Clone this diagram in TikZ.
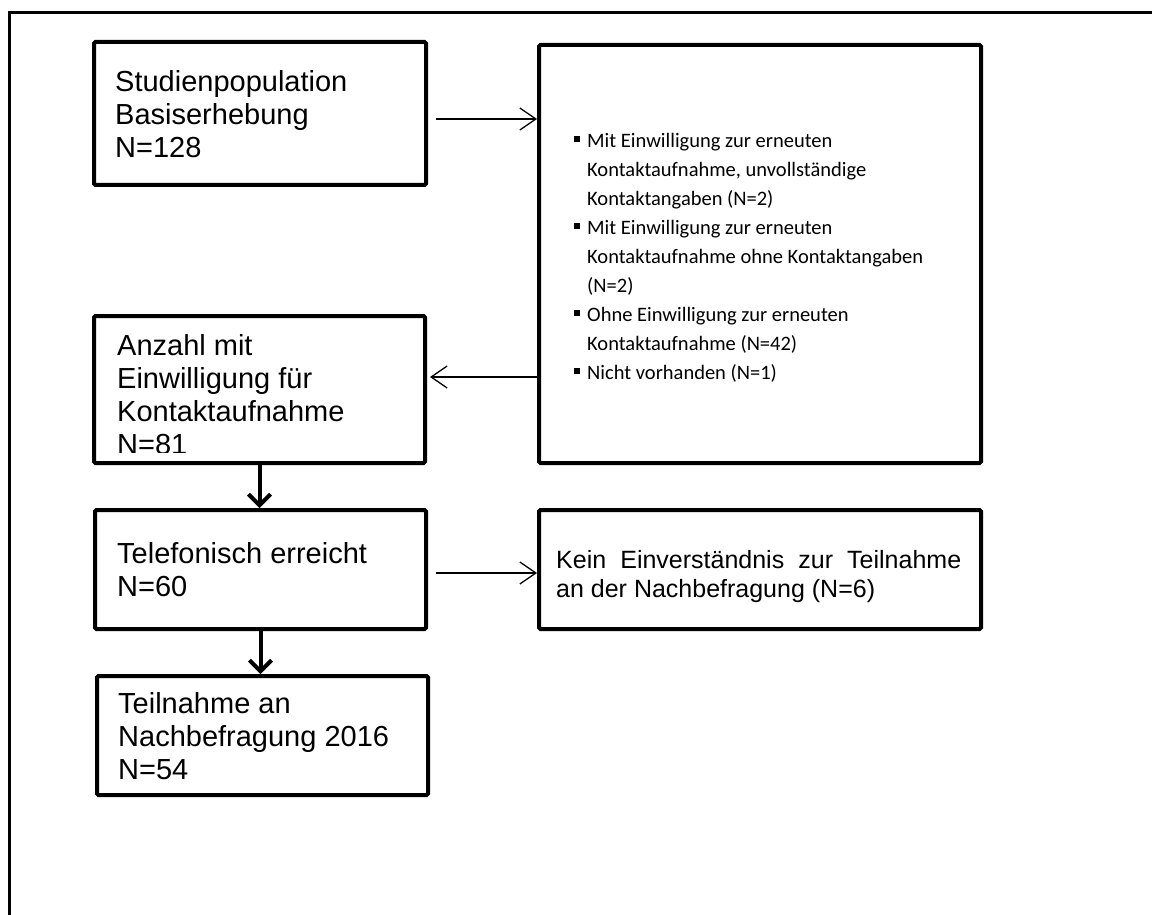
\documentclass[tikz,border=0pt]{standalone}
\usepackage{fontspec}
\setmainfont{Liberation Sans}
\newfontfamily\calfont{Carlito}
\usetikzlibrary{arrows.meta}
\newcommand\bulmark{\makebox[13pt][l]{\raisebox{6pt}{\rule{5.5pt}{5.5pt}}}}
\newcommand\bulind{\hspace*{13pt}}
\begin{document}
\begin{tikzpicture}[x=1pt,y=-1pt,
  box/.style={draw, line width=4pt, rounded corners=1.5pt, anchor=north west, inner sep=0pt},
  boxtext/.style={anchor=base west, inner sep=0pt, font=\fontsize{29}{33}\selectfont},
  thinarrow/.style={line width=1.3pt, -{Straight Barb[length=16pt,width=22pt,line width=1.3pt]}},
  thickarrow/.style={line width=4pt, -{Straight Barb[length=11pt,width=22pt,line width=4pt]}}]
\useasboundingbox (0,0) rectangle (1152,915);
\begin{scope}
  \clip (0,0) rectangle (1152,915);
  \draw[line width=3pt] (9.5,12.5) rectangle (1170,940);
\end{scope}

% boxes
\node[box, minimum width=332pt, minimum height=143pt] (b1) at (92,40) {};
\node[box, minimum width=442pt, minimum height=418pt] (b2) at (537,43) {};
\node[box, minimum width=331pt, minimum height=147pt] (b3) at (92,314) {};
\node[box, minimum width=331pt, minimum height=119pt] (b4) at (93,508) {};
\node[box, minimum width=331pt, minimum height=119pt] (b5) at (95,674) {};
\node[box, minimum width=442pt, minimum height=119pt] (b6) at (537,508) {};

% texts
\node[boxtext] (t1) at (115,92) {\parbox[t]{300pt}{\raggedright Studienpopulation\\Basiserhebung\\N=128}};
\begin{scope}
  \clip (92,314) rectangle (427,452);
  \node[boxtext] (t3) at (117,355) {\parbox[t]{300pt}{\raggedright Anzahl mit\\Einwilligung für\\Kontaktaufnahme\\N=81}};
\end{scope}
\node[boxtext] (t4) at (117,563) {\parbox[t]{300pt}{\raggedright Telefonisch erreicht\\N=60}};
\node[boxtext] (t5) at (118,713) {\parbox[t]{300pt}{\raggedright Teilnahme an\\Nachbefragung 2016\\N=54}};
\node[anchor=base west, inner sep=0pt, font=\fontsize{25}{29}\selectfont] (t6) at (556,568)
  {\parbox[t]{410pt}{\makebox[405pt][s]{Kein Einverständnis zur Teilnahme}\\an der Nachbefragung (N=6)}};
\node[anchor=base west, inner sep=0pt, font=\calfont\fontsize{20.5}{29}\selectfont] (t2) at (574,148)
  {\parbox[t]{390pt}{\raggedright
   \bulmark Mit Einwilligung zur erneuten\\
   \bulind Kontaktaufnahme, unvollständige\\
   \bulind Kontaktangaben (N=2)\\
   \bulmark Mit Einwilligung zur erneuten\\
   \bulind Kontaktaufnahme ohne Kontaktangaben\\
   \bulind (N=2)\\
   \bulmark Ohne Einwilligung zur erneuten\\
   \bulind Kontaktaufnahme (N=42)\\
   \bulmark Nicht vorhanden (N=1)}};

% connectors
\draw[thinarrow, shorten <=8pt] ([yshift=-5.5pt]b1.east) -- ([yshift=-5.5pt]b1.east -| b2.west);
\draw[thinarrow, shorten >=3pt] ([yshift=12.5pt]b3.east -| b2.west) -- ([yshift=12.5pt]b3.east);
\draw[thinarrow, shorten <=8pt] ([yshift=-3.5pt]b4.east) -- ([yshift=-3.5pt]b4.east -| b6.west);
\draw[thickarrow] (b3.south) -- (b3.south |- b4.north);
\draw[thickarrow] (b4.south) -- (b4.south |- b5.north);
\end{tikzpicture}
\end{document}
